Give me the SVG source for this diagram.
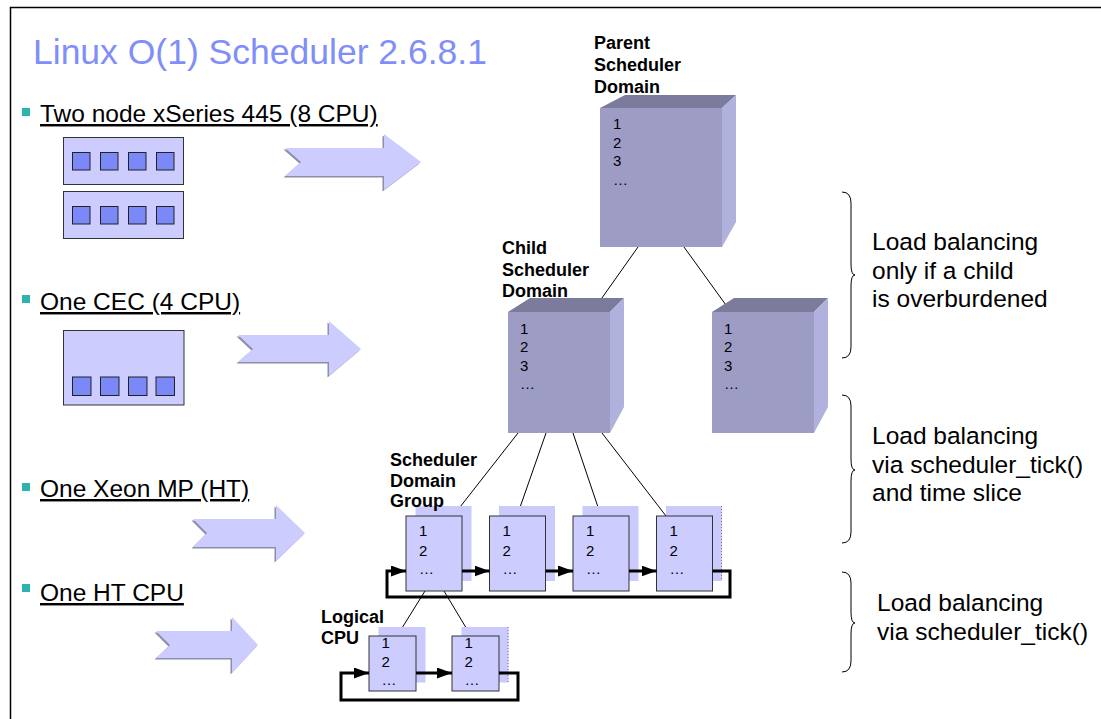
<svg xmlns="http://www.w3.org/2000/svg" width="1101" height="719" viewBox="0 0 1101 719">
  <defs>
    <style>
      text { font-family: "Liberation Sans", Arial, sans-serif; fill: #000; }
      .title { font-size: 35.5px; fill: #7F8EF8; }
      .bullet { font-size: 24.5px; text-decoration: underline; }
      .label { font-size: 18px; font-weight: bold; }
      .num { font-size: 15px; }
      .note { font-size: 24.5px; }
      .bsq { fill: #2CB3AE; }
      .board { fill: #CCCCFF; stroke: #333; stroke-width: 1; }
      .cpu { fill: #7B88F7; stroke: #222; stroke-width: 1; }
      .arrow { fill: #CCCCFF; }
      .arrow-sh { fill: #8E8EA8; }
      .front { fill: #9C9CC5; }
      .top { fill: #7B7B9C; }
      .side { fill: #B1B1DD; }
      .grp { fill: #CCCCFF; stroke: #333; stroke-width: 1; }
      .grp-sh { fill: #CACAFD; }
      .link { stroke: #000; stroke-width: 1; fill: none; }
      .ring { stroke: #000; stroke-width: 3; fill: none; }
      .brace { stroke: #000; stroke-width: 1; fill: none; }
      .dots { stroke: #777; stroke-width: 1; stroke-dasharray: 1 2; }
    </style>
    <marker id="head" viewBox="0 0 15 11" refX="15" refY="5.5" markerWidth="15" markerHeight="11" markerUnits="userSpaceOnUse" orient="auto">
      <path d="M0,0 L15,5.5 L0,11 z" fill="#000"/>
    </marker>
  </defs>

  <!-- page frame -->
  <path d="M10.5,719 V7.5 H1101" fill="none" stroke="#000" stroke-width="1.5"/>

  <text class="title" x="33" y="64">Linux O(1) Scheduler 2.6.8.1</text>

  <!-- bullets -->
  <g id="bullet-xseries">
    <rect class="bsq" x="22" y="108" width="8" height="8"/>
    <text class="bullet" x="40" y="122">Two node xSeries 445 (8 CPU)</text>
  </g>
  <g id="bullet-cec">
    <rect class="bsq" x="22" y="295" width="8" height="8"/>
    <text class="bullet" x="40" y="310">One CEC (4 CPU)</text>
  </g>
  <g id="bullet-xeon">
    <rect class="bsq" x="22" y="483" width="8" height="8"/>
    <text class="bullet" x="40" y="497">One Xeon MP (HT)</text>
  </g>
  <g id="bullet-htcpu">
    <rect class="bsq" x="22" y="584" width="8" height="8"/>
    <text class="bullet" x="40" y="601">One HT CPU</text>
  </g>

  <!-- hardware boards -->
  <g id="board-node1">
    <rect class="board" x="63.5" y="137.5" width="120" height="47"/>
    <rect class="cpu" x="72.5" y="152.5" width="17.5" height="17.5"/>
    <rect class="cpu" x="100.5" y="152.5" width="17.5" height="17.5"/>
    <rect class="cpu" x="128.5" y="152.5" width="17.5" height="17.5"/>
    <rect class="cpu" x="156.5" y="152.5" width="17.5" height="17.5"/>
  </g>
  <g id="board-node2">
    <rect class="board" x="63.5" y="191.5" width="120" height="47"/>
    <rect class="cpu" x="72.5" y="206.5" width="17.5" height="17.5"/>
    <rect class="cpu" x="100.5" y="206.5" width="17.5" height="17.5"/>
    <rect class="cpu" x="128.5" y="206.5" width="17.5" height="17.5"/>
    <rect class="cpu" x="156.5" y="206.5" width="17.5" height="17.5"/>
  </g>
  <g id="board-cec">
    <rect class="board" x="63.5" y="330.5" width="120.5" height="74.5"/>
    <rect class="cpu" x="72.5" y="377" width="18.5" height="18.5"/>
    <rect class="cpu" x="100.5" y="377" width="18.5" height="18.5"/>
    <rect class="cpu" x="128.5" y="377" width="18.5" height="18.5"/>
    <rect class="cpu" x="156" y="377" width="18.5" height="18.5"/>
  </g>

  <!-- block arrows -->
  <g id="arrow-1">
    <polygon class="arrow-sh" transform="translate(-1.5,1.5)" points="285,148 384,148 384,134 421,162 384,190 384,176 285,176 301,162"/>
    <polygon class="arrow" points="285,148 384,148 384,134 421,162 384,190 384,176 285,176 301,162"/>
  </g>
  <g id="arrow-2">
    <polygon class="arrow-sh" transform="translate(-1.5,1.5)" points="238,335 329,335 329,321 361,349 329,376 329,362 238,362 253,349"/>
    <polygon class="arrow" points="238,335 329,335 329,321 361,349 329,376 329,362 238,362 253,349"/>
  </g>
  <g id="arrow-3">
    <polygon class="arrow-sh" transform="translate(-1.5,1.5)" points="193,519 276,519 276,505 305,533 276,561 276,547 193,547 207,533"/>
    <polygon class="arrow" points="193,519 276,519 276,505 305,533 276,561 276,547 193,547 207,533"/>
  </g>
  <g id="arrow-4">
    <polygon class="arrow-sh" transform="translate(-1.5,1.5)" points="156,631 232,631 232,617 258,645 232,673 232,658 156,658 170,645"/>
    <polygon class="arrow" points="156,631 232,631 232,617 258,645 232,673 232,658 156,658 170,645"/>
  </g>

  <!-- connectors -->
  <g id="connectors">
    <line class="link" x1="638" y1="247" x2="592" y2="312"/>
    <line class="link" x1="684" y1="247" x2="731" y2="312"/>
    <line class="link" x1="518" y1="433" x2="453" y2="516"/>
    <line class="link" x1="546" y1="433" x2="517" y2="516"/>
    <line class="link" x1="573" y1="433" x2="601" y2="516"/>
    <line class="link" x1="602" y1="433" x2="666" y2="516"/>
    <line class="link" x1="425" y1="591" x2="397" y2="636"/>
    <line class="link" x1="444" y1="591" x2="471" y2="636"/>
  </g>

  <!-- parent scheduler domain -->
  <g id="parent-domain">
    <text class="label" x="594" y="49">Parent</text>
    <text class="label" x="594" y="71">Scheduler</text>
    <text class="label" x="594" y="93">Domain</text>
    <polygon class="top" points="600,108 625,95 736,95 722,108"/>
    <polygon class="side" points="722,108 736,95 736,222 722,247"/>
    <rect class="front" x="600" y="108" width="122" height="139"/>
    <text class="num" x="613" y="129">1</text>
    <text class="num" x="613" y="147.5">2</text>
    <text class="num" x="613" y="166">3</text>
    <text class="num" x="613" y="184.5">…</text>
  </g>

  <!-- child scheduler domains -->
  <g id="child-domain-1">
    <text class="label" x="502" y="254">Child</text>
    <text class="label" x="502" y="276">Scheduler</text>
    <text class="label" x="502" y="297">Domain</text>
    <polygon class="top" points="508,312 530,298 624,298 610,312"/>
    <polygon class="side" points="610,312 624,298 624,407 610,433"/>
    <rect class="front" x="508" y="312" width="102" height="121"/>
    <text class="num" x="520" y="333.5">1</text>
    <text class="num" x="520" y="352">2</text>
    <text class="num" x="520" y="370.5">3</text>
    <text class="num" x="520" y="389">…</text>
  </g>
  <g id="child-domain-2">
    <polygon class="top" points="712,312 734,298 828,298 814,312"/>
    <polygon class="side" points="814,312 828,298 828,407 814,433"/>
    <rect class="front" x="712" y="312" width="102" height="121"/>
    <text class="num" x="724" y="333.5">1</text>
    <text class="num" x="724" y="352">2</text>
    <text class="num" x="724" y="370.5">3</text>
    <text class="num" x="724" y="389">…</text>
  </g>

  <!-- scheduler domain groups -->
  <g id="group-1">
    <rect class="grp-sh" x="415.5" y="506" width="56" height="75"/>
    <rect class="grp" x="406" y="516" width="56" height="75"/>
    <text class="num" x="419" y="535.5">1</text>
    <text class="num" x="419" y="555.5">2</text>
    <text class="num" x="419" y="574">…</text>
  </g>
  <g id="group-2">
    <rect class="grp-sh" x="499" y="506" width="56" height="75"/>
    <rect class="grp" x="489.5" y="516" width="56" height="75"/>
    <text class="num" x="502.5" y="535.5">1</text>
    <text class="num" x="502.5" y="555.5">2</text>
    <text class="num" x="502.5" y="574">…</text>
  </g>
  <g id="group-3">
    <rect class="grp-sh" x="582.5" y="506" width="56" height="75"/>
    <rect class="grp" x="573" y="516" width="56" height="75"/>
    <text class="num" x="586" y="535.5">1</text>
    <text class="num" x="586" y="555.5">2</text>
    <text class="num" x="586" y="574">…</text>
  </g>
  <g id="group-4">
    <rect class="grp-sh" x="666" y="506" width="56" height="75"/>
    <line class="dots" x1="721.5" y1="506" x2="721.5" y2="581"/>
    <rect class="grp" x="656.5" y="516" width="56" height="75"/>
    <text class="num" x="669.5" y="535.5">1</text>
    <text class="num" x="669.5" y="555.5">2</text>
    <text class="num" x="669.5" y="574">…</text>
  </g>
  <g id="group-label">
    <text class="label" x="390" y="466">Scheduler</text>
    <text class="label" x="390" y="487">Domain</text>
    <text class="label" x="390" y="507">Group</text>
  </g>

  <!-- logical CPUs -->
  <g id="logical-cpu-1">
    <rect class="grp-sh" x="378.5" y="627" width="47" height="55.5"/>
    <rect class="grp" x="369" y="636" width="47" height="55"/>
    <text class="num" x="381.5" y="647.5">1</text>
    <text class="num" x="381.5" y="666.5">2</text>
    <text class="num" x="381.5" y="685">…</text>
  </g>
  <g id="logical-cpu-2">
    <rect class="grp-sh" x="461.5" y="627" width="47" height="55.5"/>
    <line class="dots" x1="508" y1="627" x2="508" y2="683"/>
    <rect class="grp" x="452" y="636" width="47" height="55"/>
    <text class="num" x="464.5" y="647.5">1</text>
    <text class="num" x="464.5" y="666.5">2</text>
    <text class="num" x="464.5" y="685">…</text>
  </g>
  <g id="logical-label">
    <text class="label" x="321" y="623">Logical</text>
    <text class="label" x="321" y="644">CPU</text>
  </g>

  <!-- round-robin rings -->
  <g id="rings">
    <line class="ring" x1="462" y1="571" x2="489.5" y2="571" marker-end="url(#head)"/>
    <line class="ring" x1="545.5" y1="571" x2="573" y2="571" marker-end="url(#head)"/>
    <line class="ring" x1="629" y1="571" x2="656.5" y2="571" marker-end="url(#head)"/>
    <path class="ring" d="M712.5,571 H730 V597 H387 V571 H406" marker-end="url(#head)"/>
    <line class="ring" x1="416" y1="673" x2="452" y2="673" marker-end="url(#head)"/>
    <path class="ring" d="M499,673 H518 V700 H341 V673 H369" marker-end="url(#head)"/>
  </g>

  <!-- notes -->
  <g id="note-parent">
    <path class="brace" d="M842,192 Q851,192 851,203 V264 Q851,275 855,275 Q851,275 851,286 V347 Q851,358 842,358"/>
    <text class="note" x="872" y="250">Load balancing</text>
    <text class="note" x="872" y="278.5">only if a child</text>
    <text class="note" x="872" y="307">is overburdened</text>
  </g>
  <g id="note-group">
    <path class="brace" d="M842,395 Q851,395 851,406 V459 Q851,470 855,470 Q851,470 851,481 V532 Q851,543 842,543"/>
    <text class="note" x="872" y="444">Load balancing</text>
    <text class="note" x="872" y="472.5">via scheduler_tick()</text>
    <text class="note" x="872" y="501">and time slice</text>
  </g>
  <g id="note-logical">
    <path class="brace" d="M842,572 Q851,572 851,583 V612 Q851,623 855,623 Q851,623 851,634 V661 Q851,672 842,672"/>
    <text class="note" x="877" y="611">Load balancing</text>
    <text class="note" x="877" y="640">via scheduler_tick()</text>
  </g>
</svg>
